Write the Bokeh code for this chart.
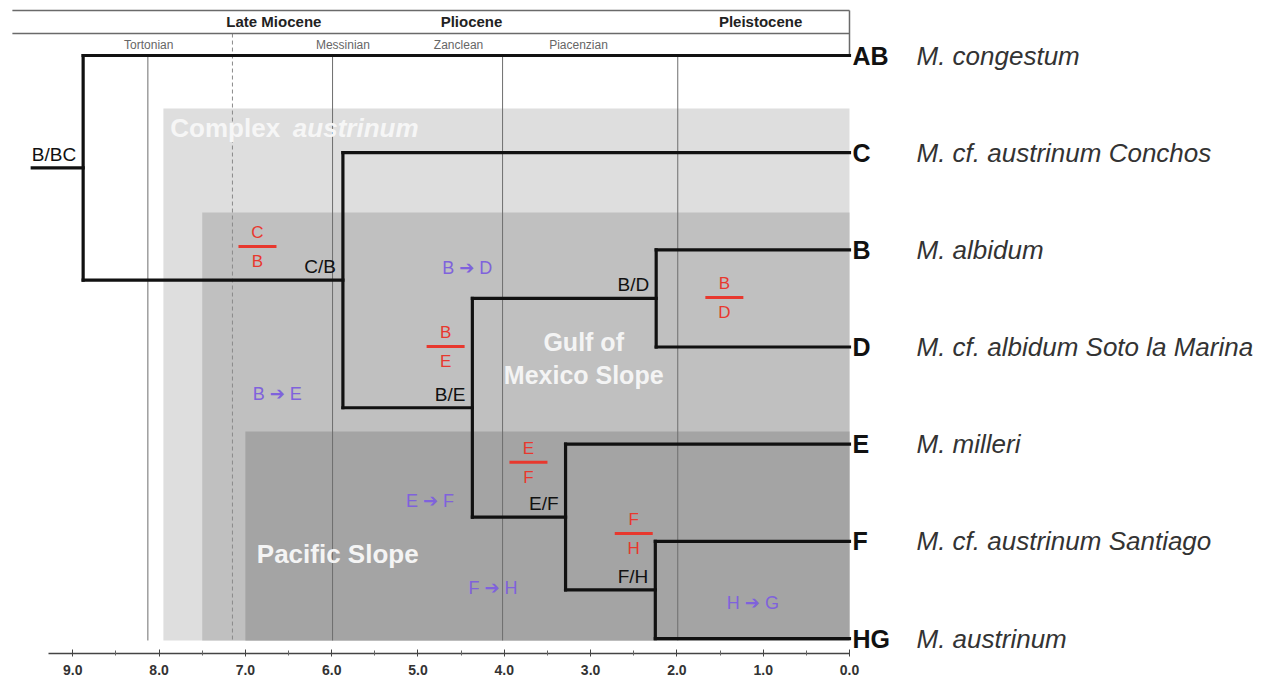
from bokeh.plotting import figure
from bokeh.models import Range1d, FixedTicker, NumeralTickFormatter
from bokeh.core.properties import value
from bokeh.embed import file_html
from bokeh.resources import INLINE

FONT = value("Liberation Sans")

# ---------------- data ----------------
tip_codes = ["AB", "C", "B", "D", "E", "F", "HG"]
species = ["M. congestum", "M. cf. austrinum Conchos", "M. albidum",
           "M. cf. albidum Soto la Marina", "M. milleri",
           "M. cf. austrinum Santiago", "M. austrinum"]

node_names = ["B/BC", "C/B", "B/E", "B/D", "E/F", "F/H"]
node_ages = [8.88, 5.87, 4.37, 2.24, 3.29, 2.25]
node_children = [("AB", "C/B"), ("C", "B/E"), ("B/D", "E/F"),
                 ("B", "D"), ("E", "F/H"), ("F", "HG")]
root_stem_age = 9.47

frac_top = ["C", "B", "B", "E", "F"]
frac_bottom = ["B", "E", "D", "F", "H"]
frac_age = [6.86, 4.68, 1.45, 3.72, 2.50]
frac_row = [1.966, 2.995, 2.49, 4.185, 4.92]

disp_text = ["B \u2794 D", "B \u2794 E", "E \u2794 F", "F \u2794 H", "H \u2794 G"]
disp_age = [4.43, 6.63, 4.86, 4.13, 1.12]
disp_row = [2.19, 3.48, 4.58, 5.475, 5.63]

region_start = [7.95, 7.5, 7.0]
region_top = [0.545, 1.616, 3.87]
region_bottom = 6.02
region_colors = ["#dedede", "#c0c0c0", "#a4a4a4"]

grid_solid = [8.13, 5.99, 4.02, 1.99]
grid_dashed = [7.15]

epochs = ["Late Miocene", "Pliocene", "Pleistocene"]
epoch_centers = [6.67, 4.38, 1.03]
stages = ["Tortonian", "Messinian", "Zanclean", "Piacenzian"]
stage_centers = [8.12, 5.87, 4.53, 3.14]

x_ticks = [9.0, 8.0, 7.0, 6.0, 5.0, 4.0, 3.0, 2.0, 1.0, 0.0]
x_minor = [8.5, 7.5, 6.5, 5.5, 4.5, 3.5, 2.5, 1.5, 0.5]

# ---------------- tree layout ----------------
age = {c: 0.0 for c in tip_codes}
row = {c: float(i) for i, c in enumerate(tip_codes)}
kids = dict(zip(node_names, node_children))
for n, a in zip(node_names, node_ages):
    age[n] = a


def ypos(n):
    if n in row:
        return row[n]
    c1, c2 = kids[n]
    row[n] = (ypos(c1) + ypos(c2)) / 2.0
    return row[n]


for n in node_names:
    ypos(n)

x0s, y0s, x1s, y1s = [], [], [], []
for n in node_names:
    c1, c2 = kids[n]
    x0s.append(age[n]); y0s.append(row[c1]); x1s.append(age[n]); y1s.append(row[c2])
    for c in (c1, c2):
        x0s.append(age[n]); y0s.append(row[c]); x1s.append(age[c]); y1s.append(row[c])
root = node_names[0]
x0s.append(root_stem_age); y0s.append(row[root]); x1s.append(age[root]); y1s.append(row[root])

# ---------------- figure ----------------
p = figure(frame_width=1268, frame_height=645,
           x_range=Range1d(9.745, -4.948), y_range=Range1d(6.154, -0.4837),
           output_backend="svg", toolbar_location=None,
           x_axis_location="below", y_axis_location=None,
           min_border_left=8, min_border_right=0, min_border_top=8, min_border_bottom=0)
p.grid.visible = False
p.outline_line_color = None
p.background_fill_color = "white"
p.border_fill_color = "white"

# shaded biogeographic regions
p.quad(left=region_start, right=[0.0] * 3, top=region_top,
       bottom=[region_bottom] * 3, fill_color=region_colors, line_color=None)

# vertical time lines
p.segment(x0=grid_solid, y0=[0.0] * len(grid_solid), x1=grid_solid,
          y1=[region_bottom] * len(grid_solid), line_color="#6e6e6e", line_width=1)
p.segment(x0=grid_dashed, y0=[-0.226], x1=grid_dashed, y1=[region_bottom],
          line_color="#8a8a8a", line_width=1, line_dash="4 3")

# header (epochs / stages)
hx_left = 9.70
p.segment(x0=[hx_left, hx_left], y0=[-0.463, -0.226], x1=[0.0, 0.0], y1=[-0.463, -0.226],
          line_color="#6a6a6a", line_width=1.5)
p.segment(x0=[0.0], y0=[-0.463], x1=[0.0], y1=[0.0], line_color="#6a6a6a", line_width=1.5)
p.text(x=epoch_centers, y=[-0.35] * 3, text=epochs, text_font=FONT, text_font_size="15px",
       text_font_style="bold", text_color="#222222", text_align="center", text_baseline="middle")
p.text(x=stage_centers, y=[-0.113] * 4, text=stages, text_font=FONT, text_font_size="12px",
       text_color="#666666", text_align="center", text_baseline="middle")

# region labels
p.text(x=[7.87], y=[0.75], text=["Complex "], text_font=FONT, text_font_size="26px",
       text_font_style="bold", text_color="#f6f6f6", text_baseline="middle")
p.text(x=[6.45], y=[0.75], text=["austrinum"], text_font=FONT, text_font_size="26px",
       text_font_style="bold italic", text_color="#f6f6f6", text_baseline="middle")
p.text(x=[3.08, 3.08], y=[2.95, 3.29], text=["Gulf of", "Mexico Slope"], text_font=FONT,
       text_font_size="25px", text_font_style="bold", text_color="#f4f4f4",
       text_align="center", text_baseline="middle")
p.text(x=[5.93], y=[5.125], text=["Pacific Slope"], text_font=FONT, text_font_size="26px",
       text_font_style="bold", text_color="#f4f4f4", text_align="center", text_baseline="middle")

# tree
p.segment(x0=x0s, y0=y0s, x1=x1s, y1=y1s, line_color="#111111", line_width=3.2,
          line_cap="square")

# node labels
p.text(x=node_ages, y=[row[n] for n in node_names], text=node_names, text_font=FONT,
       text_font_size="19px", text_color="#111111", text_align="right",
       text_baseline="bottom", x_offset=-7, y_offset=-3)

# ancestral-range fractions
p.rect(x=frac_age, y=frac_row, width=38, height=3, width_units="screen",
       height_units="screen", fill_color="#e8382e", line_color=None)
p.text(x=frac_age, y=frac_row, text=frac_top, text_font=FONT, text_font_size="17px",
       text_color="#e8382e", text_align="center", text_baseline="middle", y_offset=-14)
p.text(x=frac_age, y=frac_row, text=frac_bottom, text_font=FONT, text_font_size="17px",
       text_color="#e8382e", text_align="center", text_baseline="middle", y_offset=15)

# dispersal events
p.text(x=disp_age, y=disp_row, text=disp_text, text_font=value("Liberation Sans, DejaVu Sans"),
       text_font_size="18px", text_color="#7f62dc", text_align="center",
       text_baseline="middle")

# tip labels and species
p.text(x=[0.0] * 7, y=[row[c] for c in tip_codes], text=tip_codes, text_font=FONT,
       text_font_size="25px", text_font_style="bold", text_color="#111111",
       text_baseline="middle", x_offset=3)
p.text(x=[0.0] * 7, y=[row[c] for c in tip_codes], text=species, text_font=FONT,
       text_font_size="26px", text_font_style="italic", text_color="#333333",
       text_baseline="middle", x_offset=67)

# x axis
ax = p.xaxis[0]
ax.ticker = FixedTicker(ticks=x_ticks, minor_ticks=x_minor)
ax.formatter = NumeralTickFormatter(format="0.0")
ax.bounds = (0.0, 9.28)
ax.axis_line_color = "#444444"
ax.axis_line_width = 1.5
ax.major_tick_line_color = "#444444"
ax.minor_tick_line_color = "#666666"
ax.major_tick_in = 4
ax.major_tick_out = 3
ax.minor_tick_in = 3
ax.minor_tick_out = 2
ax.major_label_standoff = 8
ax.major_label_text_font = "Liberation Sans"
ax.major_label_text_font_size = "14px"
ax.major_label_text_font_style = "bold"
ax.major_label_text_color = "#333333"

open("out.html", "w").write(file_html(p, INLINE))
